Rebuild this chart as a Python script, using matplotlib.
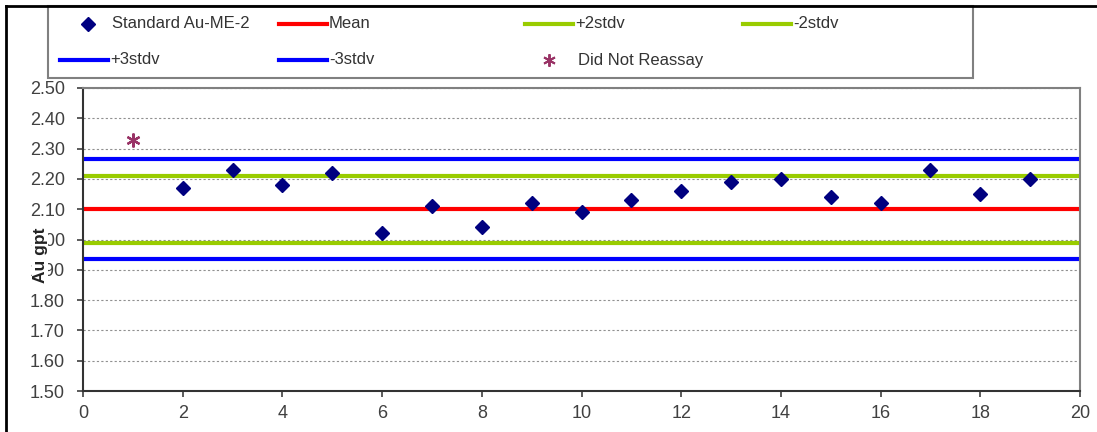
import matplotlib
matplotlib.use("Agg")
import matplotlib.pyplot as plt
from matplotlib.lines import Line2D
from matplotlib.patches import Rectangle

plt.rcParams['font.family'] = ['Liberation Sans', 'DejaVu Sans']

# ---- data ----
std_x = [2, 3, 4, 5, 6, 7, 8, 9, 10, 11, 12, 13, 14, 15, 16, 17, 18, 19]
std_y = [2.17, 2.23, 2.18, 2.22, 2.02, 2.11, 2.04, 2.12, 2.09, 2.13,
         2.16, 2.19, 2.20, 2.14, 2.12, 2.23, 2.15, 2.20]
dnr_x = [1]
dnr_y = [2.33]
mean_val = 2.10
plus2 = 2.21
minus2 = 1.99
plus3 = 2.265
minus3 = 1.935
x_ticks = list(range(0, 21, 2))
y_ticks = [1.50, 1.60, 1.70, 1.80, 1.90, 2.00, 2.10, 2.20, 2.30, 2.40, 2.50]
y_label = "Au gpt"

W, H = 1097, 432
fig = plt.figure(figsize=(W / 100, H / 100), dpi=100)

def fx(px):
    return px / W

def fy(py):
    return 1 - py / H

ax = fig.add_axes([fx(83), fy(391), fx(1080) - fx(83), fy(88) - fy(391)])

txt_col = '#333333'
line_cols = {'mean': '#FF0000', 'sd2': '#99CC00', 'sd3': '#0000FF'}
lw = 3.0

ax.axhline(plus3, color=line_cols['sd3'], lw=lw, zorder=2)
ax.axhline(minus3, color=line_cols['sd3'], lw=lw, zorder=2)
ax.axhline(plus2, color=line_cols['sd2'], lw=lw, zorder=2)
ax.axhline(minus2, color=line_cols['sd2'], lw=lw, zorder=2)
ax.axhline(mean_val, color=line_cols['mean'], lw=lw, zorder=2)

ax.plot(std_x, std_y, linestyle='none', marker='D', color='#000080',
        markersize=7.5, zorder=4)
ax.plot(dnr_x, dnr_y, linestyle='none', marker=(6, 2, 0), color='#993366',
        markersize=10, markeredgewidth=1.6, zorder=4)

ax.set_xlim(0, 20)
ax.set_ylim(1.5, 2.5)
ax.set_xticks(x_ticks)
ax.set_yticks(y_ticks)
ax.set_yticklabels([f"{v:.2f}" for v in y_ticks])
ax.tick_params(axis='both', labelsize=13, colors='#404040', length=4,
               width=1.2, direction='out')
ax.tick_params(axis='y', pad=9)
ax.tick_params(axis='x', pad=6)
ax.yaxis.grid(True, linestyle=(0, (2, 2)), color='#909090', lw=0.8, zorder=1)
ax.set_axisbelow(True)
for s in ['top', 'right']:
    ax.spines[s].set_color('#808080')
    ax.spines[s].set_linewidth(1.5)
for s in ['left', 'bottom']:
    ax.spines[s].set_color('#333333')
    ax.spines[s].set_linewidth(1.5)

fig.text(fx(40), fy(255), y_label, rotation=90, fontsize=12.5,
         fontweight='bold', ha='center', va='center', color='#222222',
         zorder=10,
         bbox=dict(boxstyle='square,pad=0.05', facecolor='white',
                   edgecolor='none'))

# outer frame (left and top visible)
fig.add_artist(Line2D([fx(6), fx(6)], [fy(6), 0], transform=fig.transFigure,
                      color='black', lw=2))
fig.add_artist(Line2D([fx(6), 1], [fy(6), fy(6)], transform=fig.transFigure,
                      color='black', lw=2))

# legend box
fig.add_artist(Rectangle((fx(48), fy(78)), fx(973) - fx(48), fy(6) - fy(78),
                         transform=fig.transFigure, facecolor='white',
                         edgecolor='#808080', lw=1.5, zorder=0))

leg_fs = 12
r1, r2 = fy(24), fy(60)
# row 1
fig.add_artist(Line2D([fx(88)], [r1], transform=fig.transFigure, marker='D',
                      color='#000080', markersize=7, linestyle='none'))
fig.text(fx(112), r1, "Standard Au-ME-2", fontsize=leg_fs, color=txt_col, va='center')
fig.add_artist(Line2D([fx(279), fx(327)], [r1, r1], transform=fig.transFigure,
                      color=line_cols['mean'], lw=lw))
fig.text(fx(329), r1, "Mean", fontsize=leg_fs, color=txt_col, va='center')
fig.add_artist(Line2D([fx(525), fx(573)], [r1, r1], transform=fig.transFigure,
                      color=line_cols['sd2'], lw=lw))
fig.text(fx(575), r1, "+2stdv", fontsize=leg_fs, color=txt_col, va='center')
fig.add_artist(Line2D([fx(743), fx(791)], [r1, r1], transform=fig.transFigure,
                      color=line_cols['sd2'], lw=lw))
fig.text(fx(793), r1, "-2stdv", fontsize=leg_fs, color=txt_col, va='center')
# row 2
fig.add_artist(Line2D([fx(60), fx(108)], [r2, r2], transform=fig.transFigure,
                      color=line_cols['sd3'], lw=lw))
fig.text(fx(110), r2, "+3stdv", fontsize=leg_fs, color=txt_col, va='center')
fig.add_artist(Line2D([fx(279), fx(327)], [r2, r2], transform=fig.transFigure,
                      color=line_cols['sd3'], lw=lw))
fig.text(fx(329), r2, "-3stdv", fontsize=leg_fs, color=txt_col, va='center')
fig.add_artist(Line2D([fx(549)], [r2], transform=fig.transFigure, marker=(6, 2, 0),
                      color='#993366', markersize=9, markeredgewidth=1.4,
                      linestyle='none'))
fig.text(fx(578), r2, "Did Not Reassay", fontsize=leg_fs, color=txt_col, va='center')

fig.savefig("out.png", dpi=100)
